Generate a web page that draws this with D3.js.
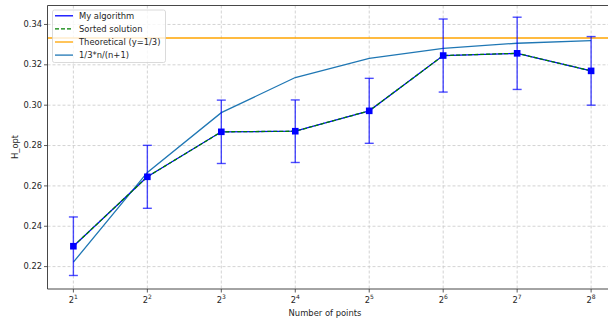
<!DOCTYPE html>
<html>
<head>
<meta charset="utf-8">
<script src="https://cdn.jsdelivr.net/npm/d3@7"></script>
<style>
  body { margin: 0; background: #fff; }
  text { font-family: "DejaVu Sans", sans-serif; fill: #262626; }
</style>
</head>
<body>
<svg id="chart" width="608" height="322"></svg>
<script>
// number of points (x) and measured values
const nPoints = [2, 4, 8, 16, 32, 64, 128, 256];
const myAlgo = [0.2301, 0.2645, 0.2868, 0.2871, 0.2972, 0.3246, 0.3257, 0.3170];
const myErr = [0.0145, 0.0156, 0.0157, 0.0155, 0.0161, 0.0181, 0.0179, 0.0170];
const sortedSol = [0.2301, 0.2645, 0.2868, 0.2871, 0.2972, 0.3246, 0.3257, 0.3170];
const boundCurve = [0.2222, 0.2667, 0.2963, 0.3137, 0.3232, 0.3282, 0.3307, 0.3320];
const theoretical = 0.3333;
const yTicks = [0.22, 0.24, 0.26, 0.28, 0.30, 0.32, 0.34];
const xExps = [1, 2, 3, 4, 5, 6, 7, 8];

const svg = d3.select("#chart");
svg.style("background-color", "#fff");

const plot = { left: 47.5, top: 5.5, bottom: 289 };

const x = d3.scaleLog().base(2)
  .domain([Math.pow(2, 0.65), Math.pow(2, 8.35)])
  .range([plot.left, 617]);
const y = d3.scaleLinear()
  .domain([0.2089, 0.3494])
  .range([plot.bottom, plot.top]);

// grid
const grid = svg.append("g");
grid.selectAll(".gx").data(xExps).enter().append("line")
  .attr("x1", d => x(Math.pow(2, d))).attr("x2", d => x(Math.pow(2, d)))
  .attr("y1", plot.top).attr("y2", plot.bottom)
  .attr("stroke", "#c8c8c8").attr("stroke-width", 0.8).attr("stroke-dasharray", "3,2");
grid.selectAll(".gy").data(yTicks).enter().append("line")
  .attr("x1", plot.left).attr("x2", 617)
  .attr("y1", d => y(d)).attr("y2", d => y(d))
  .attr("stroke", "#c8c8c8").attr("stroke-width", 0.8).attr("stroke-dasharray", "3,2");

// theoretical horizontal line
svg.append("line")
  .attr("x1", plot.left).attr("x2", 617)
  .attr("y1", y(theoretical)).attr("y2", y(theoretical))
  .attr("stroke", "orange").attr("stroke-width", 1.3);

const line = d3.line().x(d => x(d[0])).y(d => y(d[1]));

// 1/3*n/(n+1)
svg.append("path")
  .datum(nPoints.map((n, i) => [n, boundCurve[i]]))
  .attr("d", line).attr("fill", "none")
  .attr("stroke", "#1f77b4").attr("stroke-width", 1.3);

// my algorithm line
svg.append("path")
  .datum(nPoints.map((n, i) => [n, myAlgo[i]]))
  .attr("d", line).attr("fill", "none")
  .attr("stroke", "blue").attr("stroke-width", 1.3);

// error bars
const eb = svg.append("g").attr("stroke", "rgba(0,0,255,0.7)").attr("stroke-width", 1.4);
nPoints.forEach((n, i) => {
  const cx = x(n);
  const y0 = y(myAlgo[i] - myErr[i]), y1 = y(myAlgo[i] + myErr[i]);
  eb.append("line").attr("x1", cx).attr("x2", cx).attr("y1", y0).attr("y2", y1);
  eb.append("line").attr("x1", cx - 4.5).attr("x2", cx + 4.5).attr("y1", y0).attr("y2", y0);
  eb.append("line").attr("x1", cx - 4.5).attr("x2", cx + 4.5).attr("y1", y1).attr("y2", y1);
});

// sorted solution (dashed green)
svg.append("path")
  .datum(nPoints.map((n, i) => [n, sortedSol[i]]))
  .attr("d", line).attr("fill", "none")
  .attr("stroke", "green").attr("stroke-width", 1.3).attr("stroke-dasharray", "4,2");

// square markers
svg.selectAll(".mk").data(nPoints).enter().append("rect")
  .attr("x", (d) => x(d) - 3.3)
  .attr("y", (d, i) => y(myAlgo[i]) - 3.3)
  .attr("width", 6.6).attr("height", 6.6)
  .attr("fill", "blue");

// axes frame
svg.append("line").attr("x1", plot.left).attr("x2", 617).attr("y1", plot.top).attr("y2", plot.top)
  .attr("stroke", "#333").attr("stroke-width", 0.9);
svg.append("line").attr("x1", plot.left).attr("x2", 617).attr("y1", plot.bottom).attr("y2", plot.bottom)
  .attr("stroke", "#333").attr("stroke-width", 0.9);
svg.append("line").attr("x1", plot.left).attr("x2", plot.left).attr("y1", plot.top).attr("y2", plot.bottom)
  .attr("stroke", "#333").attr("stroke-width", 0.9);

// y ticks
const yt = svg.selectAll(".yt").data(yTicks).enter().append("g")
  .attr("transform", d => `translate(${plot.left},${y(d)})`);
yt.append("line").attr("x1", -3.5).attr("x2", 0).attr("stroke", "#333").attr("stroke-width", 0.8);
yt.append("text").attr("x", -5.5).attr("dy", "0.32em")
  .attr("text-anchor", "end").attr("font-size", "8.3px")
  .text(d => d.toFixed(2));

// x ticks with superscript labels
const xt = svg.selectAll(".xt").data(xExps).enter().append("g")
  .attr("transform", d => `translate(${x(Math.pow(2, d))},${plot.bottom})`);
xt.append("line").attr("y1", 0).attr("y2", 3.5).attr("stroke", "#333").attr("stroke-width", 0.8);
const xl = xt.append("text").attr("y", 14).attr("text-anchor", "middle").attr("font-size", "8.3px");
xl.append("tspan").text("2");
xl.append("tspan").attr("dy", -4).attr("font-size", "6px").text(d => d);

// axis labels
svg.append("text").attr("x", 325).attr("y", 316).attr("text-anchor", "middle")
  .attr("font-size", "8.4px").text("Number of points");
svg.append("text").attr("transform", "translate(18,147) rotate(-90)")
  .attr("text-anchor", "middle").attr("font-size", "8.4px").text("H_opt");

// legend
const legendItems = [
  { label: "My algorithm", color: "blue", dash: null },
  { label: "Sorted solution", color: "green", dash: "4,2" },
  { label: "Theoretical (y=1/3)", color: "orange", dash: null },
  { label: "1/3*n/(n+1)", color: "#1f77b4", dash: null },
];
svg.append("rect")
  .attr("x", 52.5).attr("y", 10).attr("width", 113).attr("height", 52.5)
  .attr("rx", 2).attr("fill", "rgba(255,255,255,0.8)")
  .attr("stroke", "#d0d0d0").attr("stroke-width", 0.8);
const legend = svg.selectAll(".legend").data(legendItems).enter().append("g")
  .attr("transform", (d, i) => `translate(55,${15.8 + i * 13.1})`);
legend.append("line").attr("x1", 0).attr("x2", 18)
  .attr("stroke", d => d.color).attr("stroke-width", 1.3)
  .attr("stroke-dasharray", d => d.dash);
legend.append("text").attr("x", 24).attr("dy", "0.35em")
  .attr("font-size", "8.4px").text(d => d.label);
</script>
</body>
</html>
